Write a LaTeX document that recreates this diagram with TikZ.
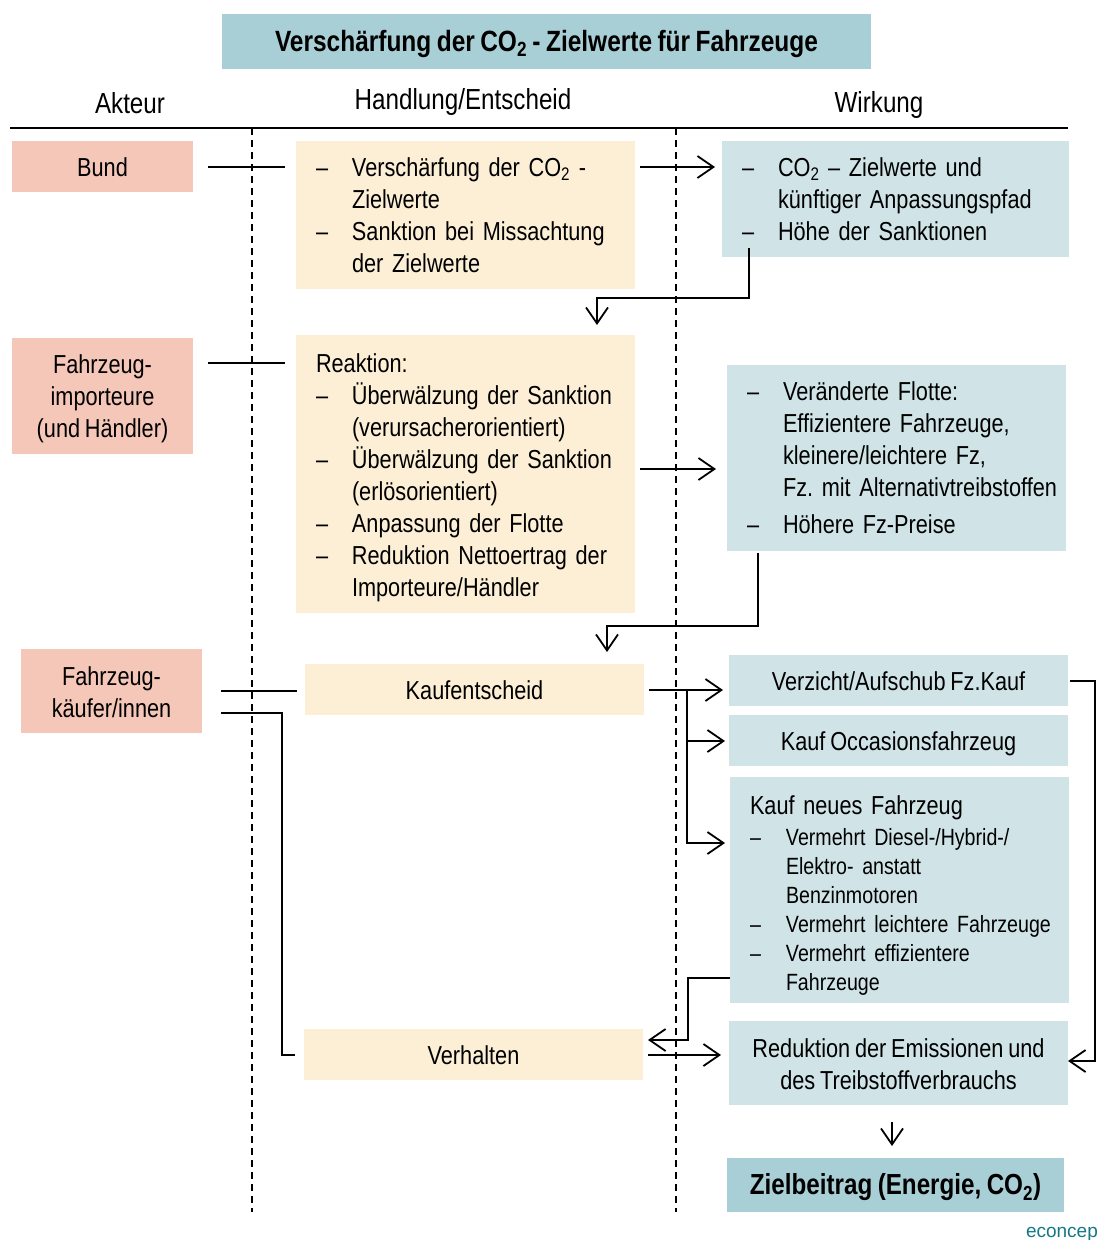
\documentclass[tikz,border=0pt]{standalone}
\usepackage{fontspec}
\setmainfont{Liberation Sans}[FakeStretch=0.835, WordSpace=0.8]
\newfontfamily\logofont{Liberation Sans}
\usetikzlibrary{arrows.meta,calc}
\frenchspacing

\definecolor{akteurfill}{RGB}{245,199,184}
\definecolor{handfill}{RGB}{252,239,214}
\definecolor{wirkfill}{RGB}{208,228,232}
\definecolor{titlefill}{RGB}{169,207,214}
\definecolor{logocol}{RGB}{20,120,135}

\newcommand\fbody{\fontsize{26}{32}\selectfont}
\newcommand\fsmall{\fontsize{23.5}{29}\selectfont}
\newcommand\fhead{\fontsize{29}{34}\selectfont}
\newcommand\ftitle{\bfseries\fontsize{29.3}{32}\selectfont}
% list lines: dash item and continuation line
\newcommand\litem[1]{\mbox{\makebox[36pt][l]{–}#1}}
\newcommand\lcont[1]{\mbox{\hspace*{36pt}#1}}
% invisible strut that pushes a block's first line down
\newcommand\topstrut[1]{\rule{0pt}{#1}}

\begin{document}
\begin{tikzpicture}[x=1pt,y=-1pt,
  every node/.style={inner sep=0pt, outer sep=0pt},
  wh/.style 2 args={minimum width=#1pt, minimum height=#2pt},
  single/.style={text height=19pt, text depth=0pt},
  list/.style={inner xsep=20pt, text width=#1pt, align=left},
  akteur/.style={fill=akteurfill, anchor=north west, align=center, font=\fbody},
  hand/.style={fill=handfill, anchor=north west, font=\fbody},
  wirk/.style={fill=wirkfill, anchor=north west, font=\fbody},
  head/.style={anchor=base, font=\fhead},
  conn/.style={line width=1.8pt},
  arr/.style={conn, -{Straight Barb[length=16pt, width=22pt]}},
  lane/.style={line width=1.6pt, dash pattern=on 7pt off 5pt},
]
\useasboundingbox (0,0) rectangle (1097,1240);

% title and column headers
\node[fill=titlefill, anchor=north west, wh={649}{55}, font=\ftitle, single] (title) at (222,14)
  {Verschärfung der CO\textsubscript{2} - Zielwerte für Fahrzeuge};
\node[head] (hakteur) at (130,113) {Akteur};
\node[head] (hhand) at (463,109) {Handlung/Entscheid};
\node[head] (hwirk) at (879,112) {Wirkung};

% header rule and lane separators
\coordinate (ruleL) at (10,128);
\coordinate (ruleR) at (1068,128);
\draw[line width=1.8pt] (ruleL) -- (ruleR);
\coordinate (laneA) at (252,128);
\coordinate (laneB) at (676,128);
\draw[lane] (laneA) -- ++(0,1084);
\draw[lane] (laneB) -- ++(0,1084);

% actors
\node[akteur, wh={181}{51}, single] (bund) at (12,141) {Bund};
\node[akteur, wh={181}{116}] (imp) at (12,338) {\topstrut{25pt}Fahrzeug-\\importeure\\(und Händler)};
\node[akteur, wh={181}{84}] (kaeufer) at (21,649) {\topstrut{22pt}Fahrzeug-\\käufer/innen};

% actions / decisions
\node[hand, wh={339}{148}, list=299] (b1) at (296,141)
  {\litem{Verschärfung der CO\textsubscript{2} -}\\
   \lcont{Zielwerte}\\
   \litem{Sanktion bei Missachtung}\\
   \lcont{der Zielwerte}};
\node[hand, wh={339}{278}, list=299] (b2) at (296,335)
  {\topstrut{26pt}Reaktion:\\
   \litem{Überwälzung der Sanktion}\\
   \lcont{(verursacherorientiert)}\\
   \litem{Überwälzung der Sanktion}\\
   \lcont{(erlösorientiert)}\\
   \litem{Anpassung der Flotte}\\
   \litem{Reduktion Nettoertrag der}\\
   \lcont{Importeure/Händler}};
\node[hand, wh={339}{51}, single] (kauf) at (305,664) {Kaufentscheid};
\node[hand, wh={339}{51}, single] (verh) at (304,1029) {Verhalten};

% effects
\node[wirk, wh={347}{116}, list=307] (w1) at (722,141)
  {\litem{CO\textsubscript{2} – Zielwerte und}\\
   \lcont{künftiger Anpassungspfad}\\
   \litem{Höhe der Sanktionen}};
\node[wirk, wh={339}{186}, list=299] (w2) at (727,365)
  {\litem{Veränderte Flotte:}\\
   \lcont{Effizientere Fahrzeuge,}\\
   \lcont{kleinere/leichtere Fz,}\\
   \lcont{Fz. mit Alternativtreibstoffen}\\[5pt]
   \litem{Höhere Fz-Preise}};
\node[wirk, wh={339}{51}, single] (w3) at (729,655) {Verzicht/Aufschub Fz.Kauf};
\node[wirk, wh={339}{51}, single] (w4) at (729,715) {Kauf Occasionsfahrzeug};
\node[wirk, wh={339}{226}, list=299] (w5) at (730,777)
  {\topstrut{30pt}Kauf neues Fahrzeug\\[2pt]
   \fsmall
   \litem{Vermehrt Diesel-/Hybrid-/}\\
   \lcont{Elektro- anstatt}\\
   \lcont{Benzinmotoren}\\
   \litem{Vermehrt leichtere Fahrzeuge}\\
   \litem{Vermehrt effizientere}\\
   \lcont{Fahrzeuge}\par};
\node[wirk, wh={339}{84}, align=center] (w6) at (729,1021)
  {\topstrut{22pt}Reduktion der Emissionen und\\des Treibstoffverbrauchs};
\node[fill=titlefill, anchor=north west, wh={337}{54}, font=\ftitle\fontsize{29}{32}\selectfont, single] (ziel) at (727,1158)
  {Zielbeitrag (Energie, CO\textsubscript{2})};

\node[anchor=base west, font=\logofont\fontsize{19}{22}\selectfont, text=logocol] (logo) at (1026,1237) {econcept};

% actor links
\draw[conn, shorten <=15pt, shorten >=11pt] ($(bund.east)+(0,0.5)$) -- ($(bund.east -| b1.west)+(0,0.5)$);
\draw[conn, shorten <=15pt, shorten >=11pt] ($(imp.north east)+(0,25)$) -- ($(b2.north west)+(0,28)$);
\draw[conn, shorten <=19pt, shorten >=8pt] (kaeufer.east) -- (kaeufer.east -| kauf.west);
\draw[conn] ($(kaeufer.south east)+(19,-20)$) -| ($(verh.west)+(-22,0.5)$) -- ($(verh.west)+(-9,0.5)$);

% sanctions chain
\draw[arr, shorten <=5pt, shorten >=7pt] ($(b1.north east)+(0,26)$) -- ($(w1.north west)+(0,26)$);
\draw[arr] ($(w1.south west)+(27,-9)$) |- ($(b2.north west)+(301,-37)$) -- ($(b2.north west)+(301,-10)$);
\draw[arr, shorten <=5pt, shorten >=11pt] ($(b2.north east)+(0,134)$) -- ($(w2.north west)+(0,104)$);
\draw[arr] ($(w2.south west)+(31,2)$) |- ($(kauf.north west)+(302,-38)$) -- ($(kauf.north west)+(302,-12)$);

% purchase decision branches
\draw[arr, shorten <=5pt, shorten >=6pt] ($(kauf.east)+(0,0.5)$) -- ($(kauf.east -| w3.west)+(0,0.5)$);
\draw[arr, shorten >=4pt] ($(kauf.east)+(43,0.5)$) |- ($(w4.west)+(0,0.5)$);
\draw[arr, shorten >=5pt] ($(kauf.east)+(43,0.5)$) |- ($(w5.north west)+(0,66)$);

% feedback to behaviour and emissions
\draw[arr] ($(w3.east)+(2,0.5)$) -- ++(25,0) |- ($(w6.east)+(0,-2)$);
\draw[arr] ($(w5.south west)+(0,-25)$) -| ($(verh.north east)+(45,11)$) -- ($(verh.north east)+(5,11)$);
\draw[arr, shorten <=5pt, shorten >=8pt] ($(verh.east)+(0,0.5)$) -- ($(verh.east -| w6.west)+(0,0.5)$);
\draw[arr] ($(w6.south)+(-6.5,17)$) -- ($(ziel.north)+(-3.5,-12)$);
\end{tikzpicture}
\end{document}
